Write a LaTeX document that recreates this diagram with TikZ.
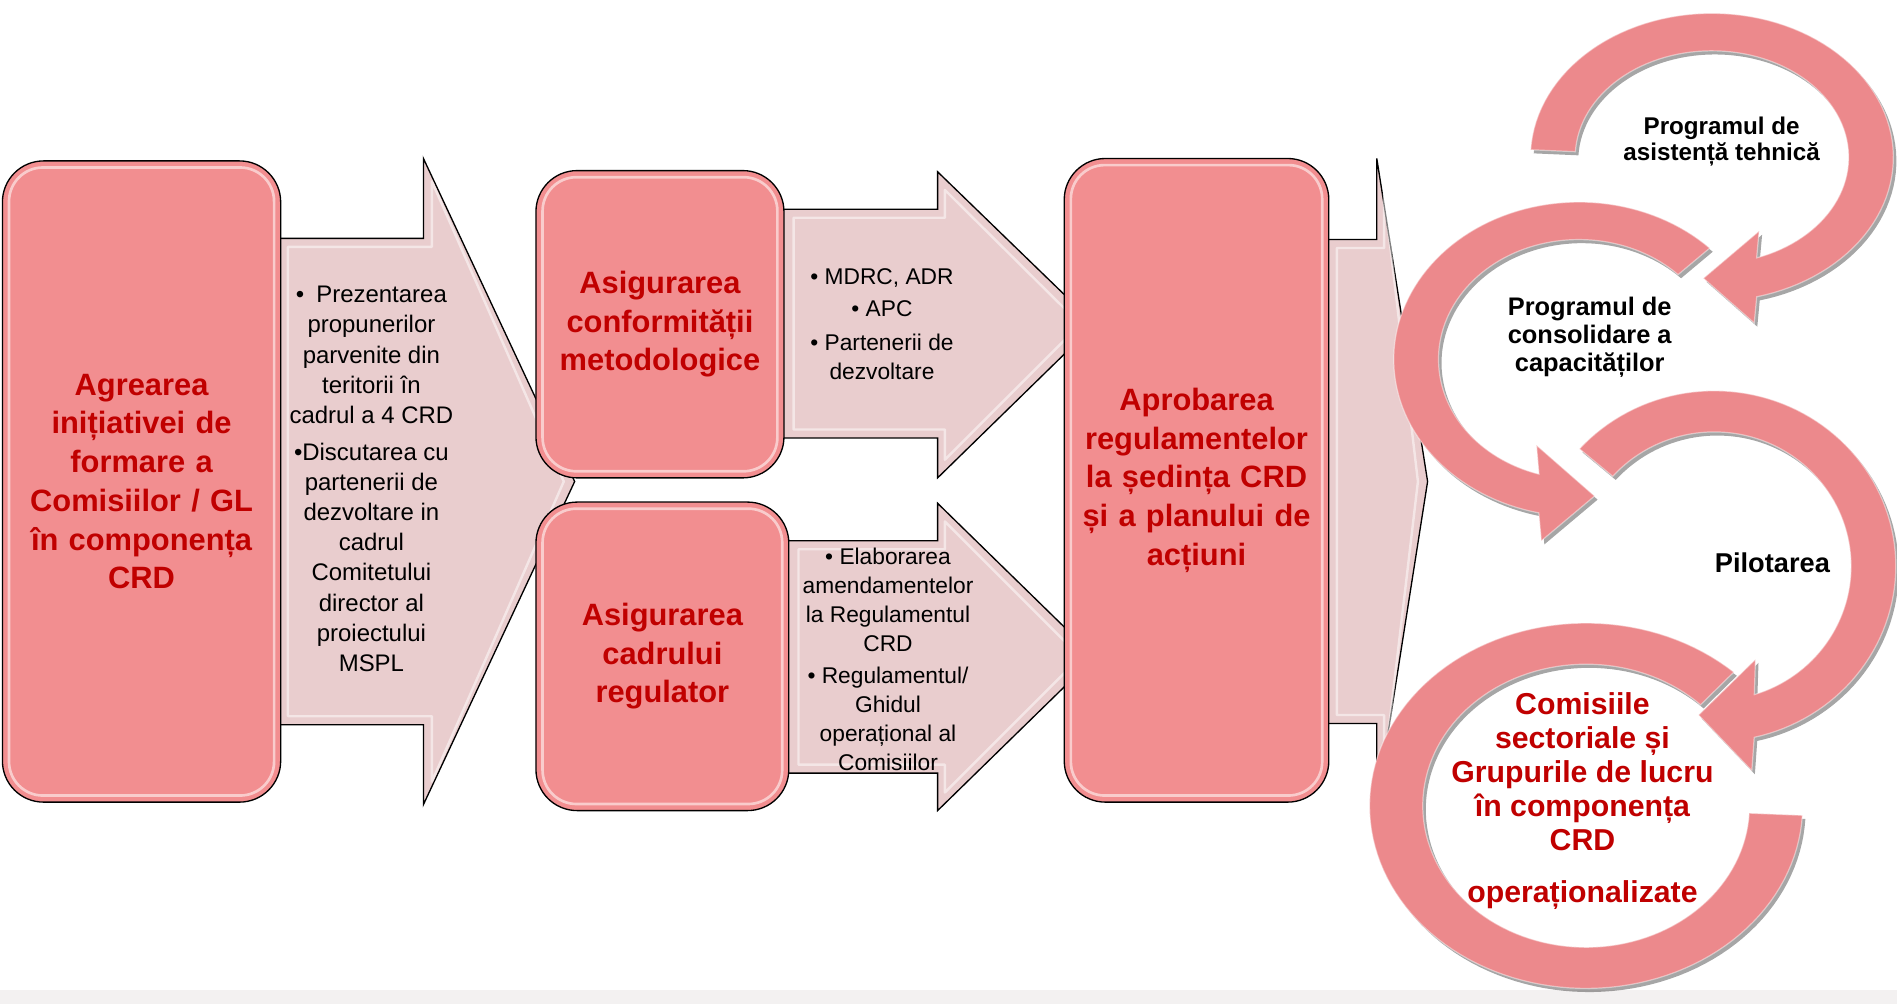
\documentclass[tikz,border=0pt]{standalone}
\usepackage{fontspec}
\setmainfont{Liberation Sans}
\usetikzlibrary{calc,shadows}
\definecolor{boxpink}{RGB}{242,142,144}
\definecolor{arrpink}{RGB}{233,205,206}
\definecolor{ringpink}{RGB}{236,137,140}
\definecolor{darkred}{RGB}{192,0,0}
\definecolor{stripgray}{RGB}{243,241,241}
\begin{document}
\begin{tikzpicture}[x=1pt,y=-1pt,
  redbox/.style={draw=black, line width=1.1pt, fill=boxpink, rounded corners=34pt, align=center, text=darkred, font=\fontsize{25.5}{32}\selectfont\bfseries},
  hl/.style={draw=white, line width=2.2pt, opacity=0.55, rounded corners=28pt},
  ahl/.style={draw=white, line width=2pt, opacity=0.5, line join=round},
  blockarrow/.style={draw=black, line width=1.1pt, fill=arrpink, line join=miter},
  arrtxt/.style={align=center, text=black, font=\fontsize{19.8}{25}\selectfont},
  smalltxt/.style={align=center, text=black, font=\fontsize{18.8}{24}\selectfont},
  ring/.style={fill=ringpink, draw=white, draw opacity=0.45, line width=1pt, drop shadow={shadow xshift=2.5pt, shadow yshift=-3pt, opacity=0.35, fill=black}},
  ringtxt/.style={align=center, text=black}
]
\useasboundingbox (0,0) rectangle (1568,830);
\fill[white] (0,0) rectangle (1568,830);
\fill[stripgray] (0,818) rectangle (1568,830);

% block arrows
\draw[blockarrow] (200,197) -- (350,197) -- (350,131) -- (475,398) -- (350,665) -- (350,599) -- (200,599) -- cycle;
\draw[ahl] (238,204) -- (357,204) -- (357,150) -- (466,398) -- (357,646) -- (357,592) -- (238,592) -- cycle;
\draw[blockarrow] (620,173) -- (775,173) -- (775,142) -- (905,268) -- (775,395) -- (775,362) -- (620,362) -- cycle;
\draw[ahl] (656,180) -- (781,180) -- (781,157) -- (893,268) -- (781,380) -- (781,355) -- (656,355) -- cycle;
\draw[blockarrow] (620,447) -- (775,447) -- (775,416) -- (905,543) -- (775,670) -- (775,639) -- (620,639) -- cycle;
\draw[ahl] (660,454) -- (781,454) -- (781,431) -- (893,543) -- (781,655) -- (781,632) -- (660,632) -- cycle;
\draw[blockarrow] (1060,198) -- (1138,198) -- (1138,131) -- (1180,398) -- (1138,665) -- (1138,598) -- (1060,598) -- cycle;
\draw[ahl] (1105,205) -- (1144,205) -- (1144,160) -- (1172,398) -- (1144,636) -- (1144,591) -- (1105,591) -- cycle;

% boxes
\node[redbox, minimum width=230pt, minimum height=530pt, text width=222pt] (b1) at (117,398)
  {Agrearea\\ inițiativei de\\ formare a\\ Comisiilor / GL\\ în componența\\ CRD};
\node[redbox, minimum width=205pt, minimum height=254pt, text width=198pt] (b2) at (545.5,268)
  {Asigurarea\\ conformității\\ metodologice};
\node[redbox, minimum width=209pt, minimum height=255pt, text width=200pt] (b3) at (547.5,542.5)
  {Asigurarea\\ cadrului\\ regulator};
\node[redbox, minimum width=218pt, minimum height=532pt, text width=212pt] (b4) at (989,397)
  {Aprobarea\\ regulamentelor\\ la ședința CRD\\ și a planului de\\ acțiuni};
\foreach \b in {b1,b2,b3,b4}{
  \draw[hl] ([xshift=6pt,yshift=-6pt]\b.north west) rectangle ([xshift=-6pt,yshift=6pt]\b.south east);
}

% texts in block arrows
\node[arrtxt] (t1) at (307,396) {•\enspace Prezentarea\\ propunerilor\\ parvenite din\\ teritorii în\\ cadrul a 4 CRD\\[5pt] •Discutarea cu\\ partenerii de\\ dezvoltare in\\ cadrul\\ Comitetului\\ director al\\ proiectului\\ MSPL};
\node[smalltxt] (t2) at (729,268) {• MDRC, ADR\\[3pt] • APC\\[4pt] • Partenerii de\\ dezvoltare};
\node[smalltxt] (t3) at (734,545) {• Elaborarea\\ amendamentelor\\ la Regulamentul\\ CRD\\[3pt] • Regulamentul/\\ Ghidul\\ operațional al\\ Comisiilor};

% circular arrows
\path[ring] plot[domain=183:435.7, samples=90] ({1415+150*cos(\x)},{130+119*sin(\x)})
  -- (1450,267) -- (1408,230) -- (1454,191)
  -- plot[domain=430.9:183, samples=90] ({1415+113*cos(\x)},{130+88*sin(\x)}) -- cycle;
\path[ring] plot[domain=-45:-257.5, samples=90] ({1305+153*cos(\x)},{297+130*sin(\x)})
  -- (1274,447) -- (1318,410) -- (1270,368)
  -- plot[domain=-253.5:-45, samples=90] ({1305+116*cos(\x)},{297+99*sin(\x)}) -- cycle;
\path[ring] plot[domain=222:437.3, samples=90] ({1417+150*cos(\x)},{468+145*sin(\x)})
  -- (1448,637) -- (1404,591) -- (1451,545)
  -- plot[domain=433:222, samples=90] ({1417+113*cos(\x)},{468+111*sin(\x)}) -- cycle;
\path[ring] plot[domain=-47:-357, samples=120] ({1311+179*cos(\x)},{666+151*sin(\x)})
  -- plot[domain=-357:-45.5, samples=120] ({1311+135*cos(\x)},{666+117*sin(\x)}) -- cycle;

% texts of the cycle
\node[ringtxt, font=\fontsize{20}{21}\selectfont\bfseries] (c1) at (1423,117) {Programul de\\ asistență tehnică};
\node[ringtxt, font=\fontsize{21}{23}\selectfont\bfseries] (c2) at (1314,279) {Programul de\\ consolidare a\\ capacităților};
\node[ringtxt, font=\fontsize{22.5}{26}\selectfont\bfseries] (c3) at (1465,465) {Pilotarea};
\node[ringtxt, text=darkred, font=\fontsize{25}{28}\selectfont\bfseries] (c4) at (1308,662) {Comisiile\\ sectoriale și\\ Grupurile de lucru\\ în componența\\ CRD\\[15pt] operaționalizate};
\end{tikzpicture}
\end{document}
